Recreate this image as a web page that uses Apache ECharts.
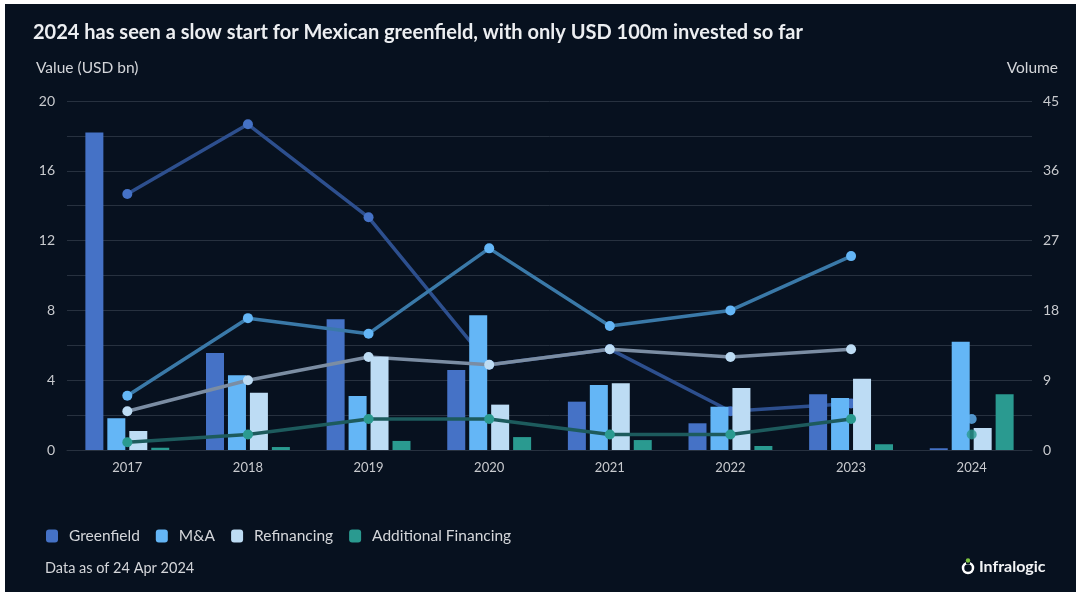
<!DOCTYPE html>
<html>
<head>
<meta charset="utf-8">
<script src="https://cdn.jsdelivr.net/npm/echarts@6/dist/echarts.min.js"></script>
<style>
  html, body { margin: 0; padding: 0; background: #ffffff; }
  #chart { position: absolute; left: 5px; top: 4px; width: 1071px; height: 588px; background: #07111f; }
</style>
</head>
<body>
<div id="chart"></div>
<script>
const years = ['2017', '2018', '2019', '2020', '2021', '2022', '2023', '2024'];
// Values (USD bn)
const greenfieldValue = [18.2, 5.56, 7.5, 4.58, 2.77, 1.53, 3.2, 0.1];
const maValue = [1.82, 4.28, 3.09, 7.72, 3.72, 2.48, 2.98, 6.2];
const refinancingValue = [1.09, 3.28, 5.35, 2.6, 3.82, 3.55, 4.09, 1.26];
const additionalValue = [0.13, 0.17, 0.52, 0.74, 0.57, 0.23, 0.33, 3.2];
// Volumes (deal count)
const greenfieldVolume = [33, 42, 30, 11, 13, 5, 6, null];
const maVolume = [7, 17, 15, 26, 16, 18, 25, 4];
const refinancingVolume = [5, 9, 12, 11, 13, 12, 13, null];
const additionalVolume = [1, 2, 4, 4, 2, 2, 4, 2];
const leftTicks = [0, 4, 8, 12, 16, 20];
const rightTicks = [0, 9, 18, 27, 36, 45];

const FONT = 'Lato';
const barColors = ['#4572c6', '#64b6f6', '#bddcf4', '#2a9a90'];
const lineColors = ['#2d4f8e', '#3a79a8', '#7b8da3', '#1d5b5d'];
const names = ['Greenfield', 'M&A', 'Refinancing', 'Additional Financing'];
const values = [greenfieldValue, maValue, refinancingValue, additionalValue];
const volumes = [greenfieldVolume, maVolume, refinancingVolume, additionalVolume];

const chart = echarts.init(document.getElementById('chart'), null, { renderer: 'canvas' });

const series = [];
values.forEach((arr, i) => {
  series.push({
    name: names[i], type: 'bar', yAxisIndex: 0, data: arr,
    barWidth: 18, barGap: '22%', z: 2 * i + 2,
    itemStyle: { color: barColors[i] }
  });
});
volumes.forEach((arr, i) => {
  // connected line for 2017-2023
  series.push({
    name: names[i] + ' volume', type: 'line', yAxisIndex: 1,
    data: arr.map((v, k) => (k < arr.length - 1 && v != null) ? v : '-'),
    z: 2 * i + 1, symbol: 'circle', symbolSize: 10,
    lineStyle: { color: lineColors[i], width: 3.5 },
    itemStyle: { color: barColors[i] },
    emphasis: { disabled: true }
  });
  // standalone 2024 point
  series.push({
    name: names[i] + ' volume 2024', type: 'scatter', yAxisIndex: 1,
    data: arr.map((v, k) => (k === arr.length - 1 && v != null) ? v : '-'),
    z: 2 * i + 1, symbol: 'circle', symbolSize: 10,
    itemStyle: { color: barColors[i] }
  });
});

const gridColor = '#27313f';
chart.setOption({
  backgroundColor: '#07111f',
  animation: false,
  textStyle: { fontFamily: FONT },
  grid: { left: 62, right: 44, top: 97, bottom: 142, containLabel: false },
  legend: {
    data: names, left: 41, top: 524, padding: 0, itemWidth: 12, itemHeight: 13, itemGap: 16,
    icon: 'roundRect',
    textStyle: { color: '#d4d6da', fontSize: 15.5, fontFamily: FONT, padding: [0, 0, 0, 6] }
  },
  xAxis: {
    type: 'category', data: years, boundaryGap: true,
    axisTick: { show: false },
    axisLine: { lineStyle: { color: gridColor, width: 1 } },
    axisLabel: { color: '#c8cace', fontSize: 13, margin: 11, fontFamily: FONT }
  },
  yAxis: [
    {
      type: 'value', min: 0, max: 20, interval: 2,
      axisLine: { show: false }, axisTick: { show: false },
      splitLine: { lineStyle: { color: gridColor, width: 1 } },
      axisLabel: {
        color: '#c8cace', fontSize: 14, margin: 12, fontFamily: FONT,
        formatter: v => leftTicks.indexOf(Math.round(v * 10) / 10) >= 0 ? String(v) : ''
      }
    },
    {
      type: 'value', min: 0, max: 45, interval: 4.5,
      axisLine: { show: false }, axisTick: { show: false },
      splitLine: { show: false },
      axisLabel: {
        color: '#c8cace', fontSize: 14, margin: 11, fontFamily: FONT,
        formatter: v => rightTicks.indexOf(Math.round(v * 10) / 10) >= 0 ? String(Math.round(v)) : ''
      }
    }
  ],
  graphic: [
    { type: 'text', left: 28, top: 19, style: { text: '2024 has seen a slow start for Mexican greenfield, with only USD 100m invested so far', fill: '#eceef1', font: 'bold 20px ' + FONT } },
    { type: 'text', left: 31, top: 56, style: { text: 'Value (USD bn)', fill: '#d4d6da', font: '15.5px ' + FONT } },
    { type: 'text', right: 18, top: 56, style: { text: 'Volume', fill: '#d4d6da', font: '15.5px ' + FONT } },
    { type: 'text', left: 40, top: 557, style: { text: 'Data as of 24 Apr 2024', fill: '#d4d6da', font: '14.5px ' + FONT } },
    { type: 'circle', shape: { cx: 963, cy: 564, r: 5 }, style: { fill: 'none', stroke: '#ffffff', lineWidth: 2.5 } },
    { type: 'rect', shape: { x: 961, y: 556, width: 4, height: 4 }, style: { fill: '#07111f' } },
    { type: 'circle', shape: { cx: 963, cy: 556.5, r: 2.2 }, style: { fill: '#7cc242' } },
    { type: 'text', left: 974, top: 555, style: { text: 'Infralogic', fill: '#f2f3f5', font: 'bold 16px ' + FONT } }
  ],
  series: series
});
</script>
</body>
</html>
